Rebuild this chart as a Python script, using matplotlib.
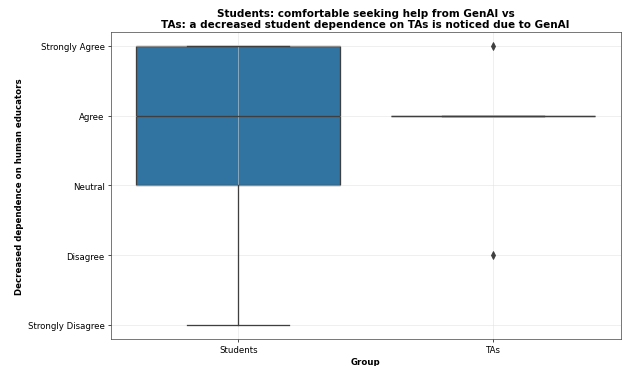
import numpy as np
import matplotlib.pyplot as plt

groups = ['Students', 'TAs']
likert_labels = ['Strongly Disagree', 'Disagree', 'Neutral', 'Agree', 'Strongly Agree']
# 1 = Strongly Disagree ... 5 = Strongly Agree
students = [1, 2, 3, 3, 4, 4, 4, 5, 5, 5, 5]
tas = [2, 4, 4, 4, 4, 4, 4, 5]

fig, ax = plt.subplots(figsize=(10, 5.9), dpi=62.2)
fig.subplots_adjust(left=0.178, right=0.998, top=0.91, bottom=0.074)

gray = '#3f3f3f'
bp = ax.boxplot([students, tas], positions=[0, 1], widths=0.8, patch_artist=True,
                boxprops=dict(facecolor='#3274a1', edgecolor=gray, linewidth=1.5),
                medianprops=dict(color=gray, linewidth=1.5),
                whiskerprops=dict(color=gray, linewidth=1.5),
                capprops=dict(color=gray, linewidth=1.5),
                flierprops=dict(marker='d', markerfacecolor=gray, markeredgecolor=gray,
                                markersize=6))
for b in bp['boxes']:
    b.set_zorder(1)

ax.set_xlim(-0.5, 1.5)
ax.set_ylim(0.8, 5.2)
ax.set_xticks([0, 1])
ax.set_xticklabels(groups, fontsize=10)
ax.set_yticks(range(1, 6))
ax.set_yticklabels(likert_labels, fontsize=10)
ax.set_axisbelow('line')
ax.grid(True, color='#e0e0e0', linewidth=0.8, alpha=0.7)
for s in ax.spines.values():
    s.set_color(gray)

ax.set_xlabel('Group', fontsize=10, fontweight='bold')
ax.set_ylabel('Decreased dependence on human educators', fontsize=10, fontweight='bold')
ax.set_title('Students: comfortable seeking help from GenAI vs\n'
             'TAs: a decreased student dependence on TAs is noticed due to GenAI',
             fontsize=12, fontweight='bold', linespacing=1.1)

plt.savefig('out.png', dpi=62.2)
